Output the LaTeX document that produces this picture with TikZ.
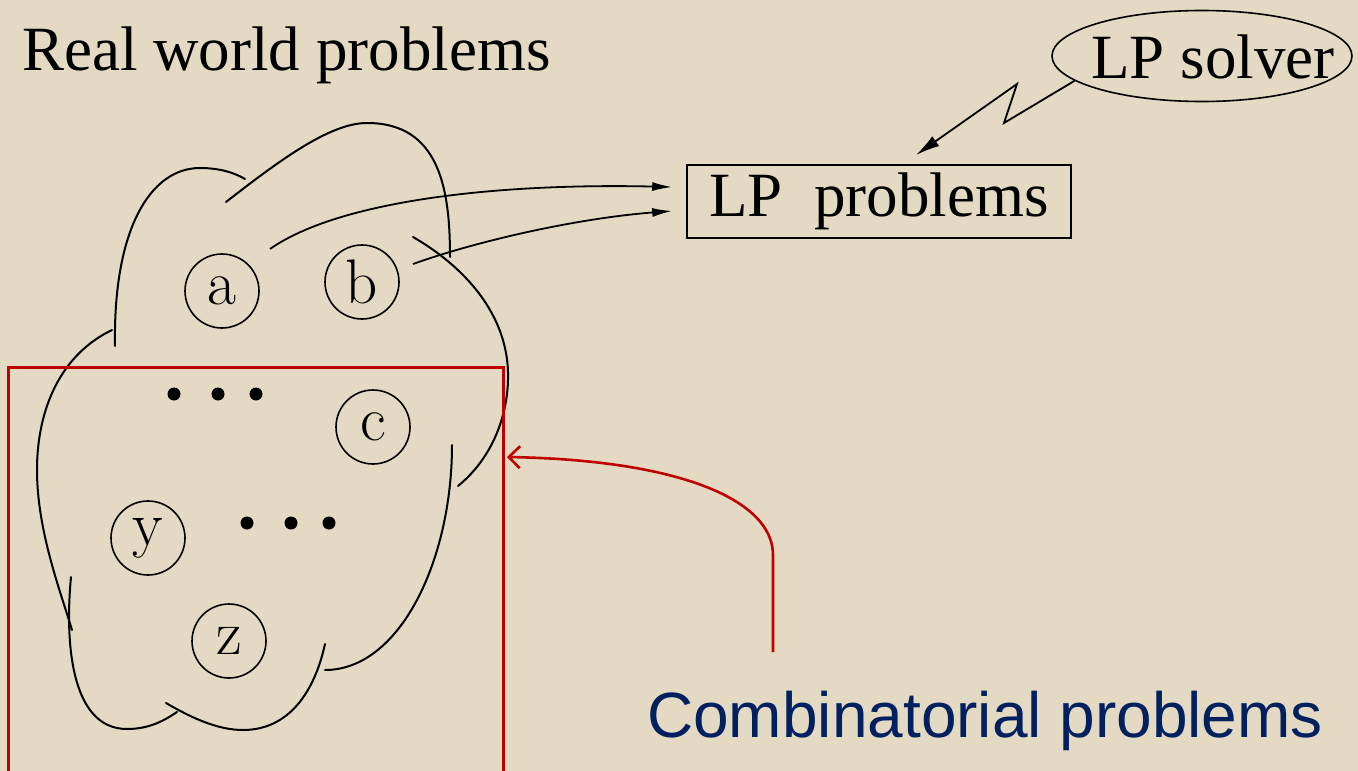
\documentclass[tikz,border=0pt]{standalone}
\usepackage{fontspec}
\newfontfamily\tnr{Liberation Serif}
\newfontfamily\arial{Liberation Sans}
\usetikzlibrary{shapes.geometric,arrows.meta}
\definecolor{bg}{RGB}{228,218,195}
\definecolor{redc}{RGB}{192,0,0}
\definecolor{navy}{RGB}{0,32,96}
\begin{document}
\begin{tikzpicture}[x=1pt,y=-1pt,
 cl/.style={line width=2pt,line cap=round},
 elem/.style={circle,draw,line width=1.6pt,minimum size=74pt,inner sep=0pt,font=\fontsize{63}{64}\selectfont},
 big/.style={font=\tnr\fontsize{63}{70}\selectfont,inner sep=0pt},
 blk/.style={line width=1.8pt,-{Latex[length=20pt,width=9pt]}},
 dotc/.style={fill=black}
]
\fill[bg] (0,0) rectangle (1358,771);
\useasboundingbox (0,0) rectangle (1358,771);

% titles
\node[big,anchor=base west] (title) at (22,70) {Real world problems};
\node[ellipse,draw,line width=1.6pt,minimum width=300pt,minimum height=91pt,inner sep=0pt] (solver) at (1202,56) {};
\node[big,anchor=base] (solvertxt) at (1213,78) {LP solver};
\node[big,draw,line width=1.6pt,minimum width=384pt,minimum height=73pt] (lp) at (879,201.5) {LP\ \ problems};
\node[font=\arial\fontsize{64}{70}\selectfont,text=navy,anchor=base west,inner sep=0pt] (comb) at (647,737) {Combinatorial problems};

% elements
\node[elem] (a) at (222,291) {a};
\node[elem] (b) at (362,282) {b};
\node[elem] (c) at (373,427) {c};
\node[elem] (y) at (148,538) {y};
\node[elem] (z) at (229,641) {z};

% dots
\foreach \x in {174,218,256} \fill[dotc] (\x,394) circle (6.5pt);
\foreach \x in {247,291,329} \fill[dotc] (\x,523) circle (6.5pt);

% cloud
\draw[cl] (115,346) .. controls (113,230) and (150,168) .. (200,168) .. controls (220,168) and (235,173) .. (245,179);
\draw[cl] (226,202) .. controls (280,160) and (330,123) .. (367,123) .. controls (440,123) and (450,190) .. (450,257);
\draw[cl] (413,237) .. controls (470,270) and (510,320) .. (508,380) .. controls (507,420) and (490,460) .. (458,486);
\draw[cl] (112,330) .. controls (60,355) and (37,410) .. (37,470) .. controls (37,530) and (60,590) .. (72,630);
\draw[cl] (71,577) .. controls (65,640) and (70,729) .. (127,729) .. controls (150,729) and (165,720) .. (177,712);
\draw[cl] (166,703) .. controls (195,720) and (220,730) .. (243,730) .. controls (290,730) and (315,690) .. (325,644);
\draw[cl] (325,670) .. controls (400,670) and (452,560) .. (452,445);

% red box
\coordinate (rb1) at (8,771);
\coordinate (rb2) at (8,367);
\coordinate (rb3) at (503,367);
\coordinate (rb4) at (503,771);
\draw[redc,line width=3pt] (rb1) -- (rb2) -- (rb3) -- (rb4);

% arrows from cloud to LP problems
\coordinate (sa) at (270,249);
\coordinate (sb) at (413,264);
\coordinate (ta) at ([xshift=-14pt,yshift=14.5pt]lp.west);
\coordinate (tb) at ([xshift=-14pt,yshift=-9.5pt]lp.west);
\draw[blk] (sa) .. controls (340,200) and (500,183) .. (ta);
\draw[blk] (sb) .. controls (480,240) and (580,218) .. (tb);

% lightning arrow
\coordinate (z1) at (1004,123);
\coordinate (z2) at (1017,84);
\coordinate (lpt) at (916,155);
\draw[line width=1.8pt,-{Latex[length=24pt,width=12pt]}] (solver.191) -- (z1) -- (z2) -- (lpt);

% red arrow
\coordinate (rs) at (773,652);
\coordinate (rm) at (773,555);
\coordinate (re) at (507,457);
\draw[redc,line width=2.6pt,-{Straight Barb[length=11pt,width=22pt]}] (rs) -- (rm) .. controls (773,500) and (680,460) .. (re);
\end{tikzpicture}
\end{document}
